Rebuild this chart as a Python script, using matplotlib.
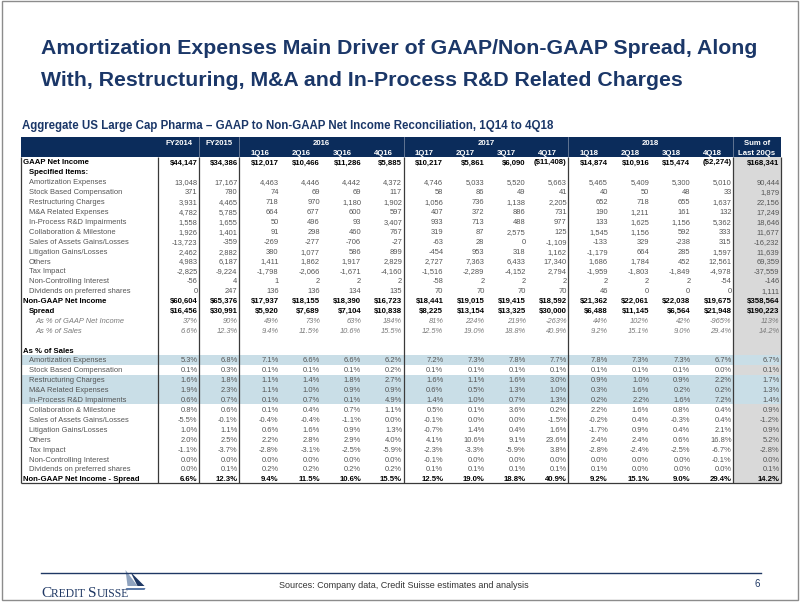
import matplotlib.pyplot as plt
from matplotlib.patches import Rectangle, Polygon
from matplotlib import font_manager
import numpy as np

# fonts: narrow face for the body of the table if it is installed
_names = {f.name for f in font_manager.fontManager.ttflist}
SANS = 'Liberation Sans'
NARROW = 'Liberation Sans Narrow' if 'Liberation Sans Narrow' in _names else 'Liberation Sans'
REG_SIZE = 6.0 if NARROW == 'Liberation Sans Narrow' else 5.4

# ---------------- data ----------------
title_lines = ['Amortization Expenses Main Driver of GAAP/Non-GAAP Spread, Along',
               'With, Restructuring, M&A and In-Process R&D Related Charges']
subtitle = 'Aggregate US Large Cap Pharma \u2013 GAAP to Non-GAAP Net Income Reconciliation, 1Q14 to 4Q18'
source = 'Sources: Company data, Credit Suisse estimates and analysis'
page_no = '6'

fy_cols = ['FY2014', 'FY2015']
years = ['2016', '2017', '2018']
quarters = ['1Q16', '2Q16', '3Q16', '4Q16', '1Q17', '2Q17', '3Q17', '4Q17',
            '1Q18', '2Q18', '3Q18', '4Q18']
sum_col = ['Sum of', 'Last 20Qs']

item_labels = ['Amortization Expenses', 'Stock Based Compensation', 'Restructuring Charges',
               'M&A Related Expenses', 'In-Process R&D Impairments', 'Collaboration & Milestone',
               'Sales of Assets Gains/Losses', 'Litigation Gains/Losses', 'Others', 'Tax Impact',
               'Non-Controlling Interest', 'Dividends on preferred shares']

gaap_ni = [44147, 34386, 12017, 10466, 11286, 5885, 10217, 5861, 6090, -11408,
           14874, 10916, 15474, -2274, 168341]
amort = [13048, 17167, 4463, 4446, 4442, 4372, 4746, 5033, 5520, 5663, 5465, 5409, 5300, 5010, 90444]
sbc = [371, 780, 74, 69, 69, 117, 58, 86, 49, 41, 40, 50, 48, 33, 1879]
restructuring = [3931, 4465, 718, 970, 1180, 1902, 1056, 736, 1138, 2205, 652, 718, 655, 1637, 22156]
mna = [4782, 5785, 664, 677, 600, 597, 407, 372, 886, 731, 190, 1211, 161, 132, 17249]
iprd = [1558, 1655, 50, 496, 93, 3407, 933, 713, 488, 977, 133, 1625, 1156, 5362, 18646]
collab = [1926, 1401, 91, 298, 460, 767, 319, 87, 2575, 125, 1545, 1156, 592, 333, 11677]
asset_sales = [-13723, -359, -269, -277, -706, -27, -63, 28, 0, -1109, -133, 329, -238, 315, -16232]
litigation = [2462, 2882, 380, 1077, 586, 899, -454, 953, 318, 1162, -1179, 664, 285, 1597, 11639]
others = [4983, 6187, 1411, 1862, 1917, 2829, 2727, 7363, 6433, 17340, 1686, 1784, 452, 12561, 69359]
tax = [-2825, -9224, -1798, -2066, -1671, -4160, -1516, -2289, -4152, 2794,
       -1959, -1803, -1849, -4978, -37559]
nci = [-56, 4, 1, 2, 2, 2, -58, 2, 2, 2, 2, 2, 2, -54, -146]
dividends = [0, 247, 136, 136, 134, 135, 70, 70, 70, 70, 46, 0, 0, 0, 1111]
non_gaap_ni = [60604, 65376, 17937, 18155, 18390, 16723, 18441, 19015, 19415, 18592,
               21362, 22061, 22038, 19675, 358564]
spread = [16456, 30991, 5920, 7689, 7104, 10838, 8225, 13154, 13325, 30000,
          6488, 11145, 6564, 21948, 190223]
spread_pct_gaap = [37, 90, 49, 73, 63, 184, 81, 224, 219, -263, 44, 102, 42, -965, 113]
spread_pct_sales = [6.6, 12.3, 9.4, 11.5, 10.6, 15.5, 12.5, 19.0, 18.8, 40.9, 9.2, 15.1, 9.0, 29.4, 14.2]

# as % of sales
amort_pct = [5.3, 6.8, 7.1, 6.6, 6.6, 6.2, 7.2, 7.3, 7.8, 7.7, 7.8, 7.3, 7.3, 6.7, 6.7]
sbc_pct = [0.1, 0.3, 0.1, 0.1, 0.1, 0.2, 0.1, 0.1, 0.1, 0.1, 0.1, 0.1, 0.1, 0.0, 0.1]
restructuring_pct = [1.6, 1.8, 1.1, 1.4, 1.8, 2.7, 1.6, 1.1, 1.6, 3.0, 0.9, 1.0, 0.9, 2.2, 1.7]
mna_pct = [1.9, 2.3, 1.1, 1.0, 0.9, 0.9, 0.6, 0.5, 1.3, 1.0, 0.3, 1.6, 0.2, 0.2, 1.3]
iprd_pct = [0.6, 0.7, 0.1, 0.7, 0.1, 4.9, 1.4, 1.0, 0.7, 1.3, 0.2, 2.2, 1.6, 7.2, 1.4]
collab_pct = [0.8, 0.6, 0.1, 0.4, 0.7, 1.1, 0.5, 0.1, 3.6, 0.2, 2.2, 1.6, 0.8, 0.4, 0.9]
asset_sales_pct = [-5.5, -0.1, -0.4, -0.4, -1.1, 0.0, -0.1, 0.0, 0.0, -1.5, -0.2, 0.4, -0.3, 0.4, -1.2]
litigation_pct = [1.0, 1.1, 0.6, 1.6, 0.9, 1.3, -0.7, 1.4, 0.4, 1.6, -1.7, 0.9, 0.4, 2.1, 0.9]
others_pct = [2.0, 2.5, 2.2, 2.8, 2.9, 4.0, 4.1, 10.6, 9.1, 23.6, 2.4, 2.4, 0.6, 16.8, 5.2]
tax_pct = [-1.1, -3.7, -2.8, -3.1, -2.5, -5.9, -2.3, -3.3, -5.9, 3.8, -2.8, -2.4, -2.5, -6.7, -2.8]
nci_pct = [0.0, 0.0, 0.0, 0.0, 0.0, 0.0, -0.1, 0.0, 0.0, 0.0, 0.0, 0.0, 0.0, -0.1, 0.0]
dividends_pct = [0.0, 0.1, 0.2, 0.2, 0.2, 0.2, 0.1, 0.1, 0.1, 0.1, 0.1, 0.0, 0.0, 0.0, 0.1]
spread_total_pct = [6.6, 12.3, 9.4, 11.5, 10.6, 15.5, 12.5, 19.0, 18.8, 40.9, 9.2, 15.1, 9.0, 29.4, 14.2]

highlight_items = ['Amortization Expenses', 'Restructuring Charges', 'M&A Related Expenses',
                   'In-Process R&D Impairments']

items = [amort, sbc, restructuring, mna, iprd, collab, asset_sales, litigation, others, tax, nci, dividends]
items_pct = [amort_pct, sbc_pct, restructuring_pct, mna_pct, iprd_pct, collab_pct, asset_sales_pct,
             litigation_pct, others_pct, tax_pct, nci_pct, dividends_pct]


def money(v):
    return f'${v:,}' if v >= 0 else f'(${-v:,})'

def num(v):
    return f'{v:,}'

def pct0(v):
    return f'{v}%'

def pct1(v):
    return f'{v:.1f}%'


# rows: (label, style, label x, values, formatter)
rows = [('GAAP Net Income', 'bold', 23, gaap_ni, money),
        ('Specified Items:', 'bold', 29, None, None)]
rows += [(lab, 'reg', 29, vals, num) for lab, vals in zip(item_labels, items)]
rows += [('Non-GAAP Net Income', 'bold', 23, non_gaap_ni, money),
         ('Spread', 'bold', 29, spread, money),
         ('As % of GAAP Net Income', 'ital', 35, spread_pct_gaap, pct0),
         ('As % of Sales', 'ital', 35, spread_pct_sales, pct1),
         (None, None, 0, None, None),
         ('As % of Sales', 'bold', 23, None, None)]
rows += [(lab, 'reg', 29, vals, pct1) for lab, vals in zip(item_labels, items_pct)]
rows += [('Non-GAAP Net Income - Spread', 'bold', 23, spread_total_pct, pct1)]

# ---------------- layout ----------------
NAVY = '#0b2c5b'
TITLE_C = '#1b3768'
GREY_TXT = '#555555'
ITAL_TXT = '#7a7a7a'

fig = plt.figure(figsize=(8.02, 6.02), dpi=100)
ax = fig.add_axes([0, 0, 1, 1])
ax.set_xlim(0, 802)
ax.set_ylim(602, 0)
ax.axis('off')

# slide frame
ax.add_patch(Rectangle((1.5, 1.0), 796.5, 599, fill=False, ec='#8c8c8c', lw=1.0))

ax.text(41, 49, title_lines[0], fontsize=15.3, fontweight='bold', color=TITLE_C,
        family=SANS, va='center', ha='left')
ax.text(41, 80, title_lines[1], fontsize=15.3, fontweight='bold', color=TITLE_C,
        family=SANS, va='center', ha='left')
ax.text(21.5, 126, subtitle, fontsize=8.3, fontweight='bold', color=TITLE_C,
        family=SANS, va='center', ha='left')

# column edges
x_left, x_lab, x_right = 21, 158, 781
edges = [x_lab, 199, 239] + list(np.linspace(239, 733, 13)[1:]) + [x_right]
edges = np.array(edges)
pitch = 9.9
y0 = 161.7
row_y = lambda i: y0 + i * pitch
top = row_y(-2) - pitch / 2
head_bot = row_y(-1) + pitch / 2
bottom = row_y(len(rows) - 1) + pitch / 2
BASE = 2.8   # half cap height: text baseline sits this far below the row centre

# header band, sum column shade, highlight rows
ax.add_patch(Rectangle((x_left, top), x_right - x_left, head_bot - top, fc=NAVY, ec='none'))
ax.add_patch(Rectangle((edges[-2], head_bot), x_right - edges[-2], bottom - head_bot,
                       fc='#d9d9d9', ec='none'))
for i, r in enumerate(rows):
    if i > 18 and r[0] in highlight_items:
        ax.add_patch(Rectangle((x_left + 0.5, row_y(i) - pitch / 2), x_right - x_left - 0.5, pitch,
                               fc='#c9dee7', ec='none'))

# header text
hdr = dict(color='white', fontsize=5.6, fontweight='bold', family=SANS, ha='center',
           va='baseline')
for k, lab in enumerate(fy_cols):
    ax.text((edges[k] + edges[k + 1]) / 2, row_y(-2) + BASE, lab, **hdr)
for k, yr in enumerate(years):
    ax.text((edges[2 + 4 * k] + edges[6 + 4 * k]) / 2, row_y(-2) + BASE, yr, **hdr)
for k, q in enumerate(quarters):
    ax.text((edges[2 + k] + edges[3 + k]) / 2, row_y(-1) + BASE, q, **hdr)
ax.text((edges[-2] + edges[-1]) / 2, row_y(-2) + BASE, sum_col[0], **hdr)
ax.text((edges[-2] + edges[-1]) / 2, row_y(-1) + BASE, sum_col[1], **hdr)

# body text
for i, (lab, style, lx, vals, fmt) in enumerate(rows):
    if lab is None:
        continue
    y = row_y(i) + BASE
    if style == 'bold':
        kw = dict(color='black', fontsize=5.6, fontweight='bold', family=SANS)
    elif style == 'ital':
        kw = dict(color=ITAL_TXT, fontsize=REG_SIZE, style='italic', family=NARROW)
    else:
        kw = dict(color=GREY_TXT, fontsize=REG_SIZE, family=NARROW)
    ax.text(lx, y, lab, ha='left', va='baseline', **kw)
    if vals is not None:
        for k, v in enumerate(vals):
            ax.text(edges[k + 1] - 1.5, y, fmt(v), ha='right', va='baseline', **kw)

# grid lines
line_kw = dict(color='#3a3a3a', lw=0.9, solid_capstyle='butt')
for x in [x_left, x_lab, 199, 239, edges[6], edges[10], edges[-2], x_right]:
    ax.plot([x, x], [head_bot, bottom], **line_kw)
for x in [199, 239, edges[6], edges[10], edges[-2]]:
    ax.plot([x, x], [top, head_bot], color='#6f809b', lw=0.6)
ax.plot([x_left, x_right], [bottom, bottom], **line_kw)

# footer
ax.plot([41, 761], [573, 573], color='#1f3864', lw=1.0)
ax.text(404, 586, source, fontsize=6.5, color='#333333', family=SANS, ha='center', va='center')
ax.text(757, 584, page_no, fontsize=7, color='#1f3864', family=SANS, ha='center', va='center')

# Credit Suisse word mark in small caps
renderer = fig.canvas.get_renderer()
x = 41
for piece, size in [('C', 11), ('REDIT ', 8.4), ('S', 11), ('UISSE', 8.4)]:
    t = ax.text(x, 597, piece, fontsize=size, color='#1f3864', family='Liberation Serif',
                ha='left', va='baseline')
    x += t.get_window_extent(renderer).width
# sail mark sitting above the end of the word mark
sx = x - 3
ax.add_patch(Polygon([(sx, 570), (sx + 12, 586), (sx + 2, 586)], closed=True, fc='#8fa3bf', ec='none'))
ax.add_patch(Polygon([(sx + 5, 572), (sx + 19, 586), (sx + 12, 586)], closed=True, fc='#1f3864', ec='none'))
ax.add_patch(Polygon([(sx, 588), (sx + 20, 588), (sx + 19, 590), (sx + 2, 590)], closed=True,
                     fc='#5c7aa8', ec='none'))

fig.savefig('out.png', dpi=100)
